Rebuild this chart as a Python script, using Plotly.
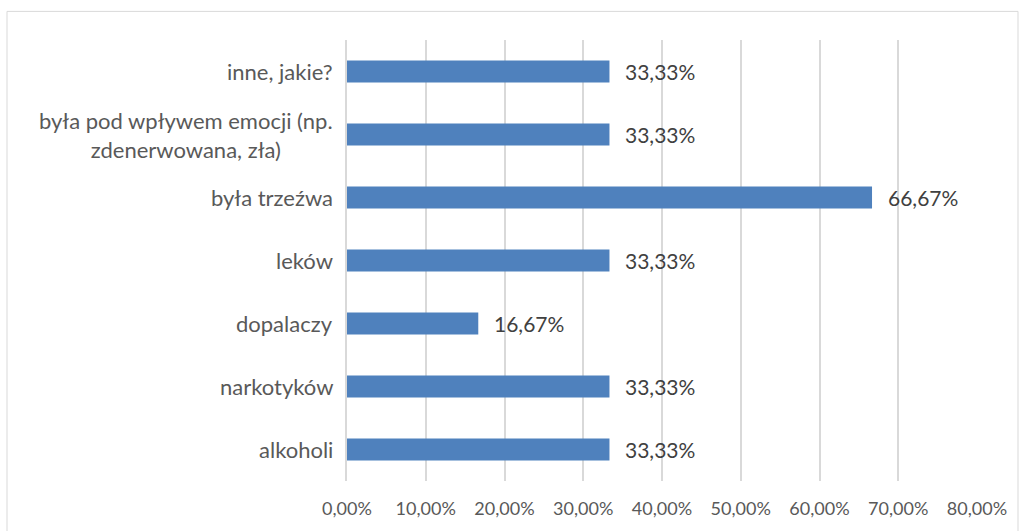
import plotly.graph_objects as go

categories = ["alkoholi", "narkotyków", "dopalaczy", "leków", "była trzeźwa",
              "była pod wpływem emocji (np.<br>zdenerwowana, zła)", "inne, jakie?"]
values = [0.3333, 0.3333, 0.1667, 0.3333, 0.6667, 0.3333, 0.3333]
tick_vals = [0, 0.1, 0.2, 0.3, 0.4, 0.5, 0.6, 0.7, 0.8]

W, H = 1019, 531
L, R, T, B = 347, 42, 40, 44
FONT = "Lato"
TXT = "#595959"

fig = go.Figure()
fig.add_trace(go.Bar(
    y=list(range(len(categories))), x=values, orientation="h",
    marker=dict(color="#4f81bd", line=dict(width=0)),
    hoverinfo="skip",
))

annotations = []
for i, (c, v) in enumerate(zip(categories, values)):
    annotations.append(dict(x=v, y=i, xref="x", yref="y", text=f"{v*100:.2f}%".replace(".", ","),
                            showarrow=False, xanchor="left", xshift=14,
                            font=dict(family=FONT, size=21, color="#404040")))
    annotations.append(dict(x=0, y=i, xref="paper", yref="y", text=c, showarrow=False,
                            xanchor="right", align="center", xshift=-12,
                            font=dict(family=FONT, size=22, color=TXT)))

pw = W - L - R
ph = H - T - B
fig.add_shape(type="rect", xref="paper", yref="paper",
              x0=(7 - L) / pw, x1=(1018 - L) / pw, y0=(H - 540 - B) / ph, y1=(H - 11 - B) / ph,
              line=dict(color="#d9d9d9", width=1), fillcolor="rgba(0,0,0,0)", layer="below")

fig.update_layout(
    width=W, height=H,
    margin=dict(l=L, r=R, t=T, b=B),
    paper_bgcolor="white", plot_bgcolor="white",
    separators=", ",
    bargap=0.65,
    showlegend=False,
    annotations=annotations,
    xaxis=dict(range=[0, 0.8], tickvals=tick_vals, tickformat=".2%",
               showgrid=True, gridcolor="#d9d9d9", gridwidth=1.5,
               zeroline=False, showline=False, ticks="",
               tickfont=dict(family=FONT, size=18, color=TXT), ticklabelstandoff=15,
               fixedrange=True),
    yaxis=dict(range=[-0.5, len(categories) - 0.5], showticklabels=False,
               showgrid=False, zeroline=False, showline=True, linecolor="#d9d9d9", linewidth=1.5,
               fixedrange=True),
)

html = fig.to_html(full_html=True, config={"displayModeBar": False})
html = html.replace("<head>", "<head><style>html,body{margin:0;padding:0;overflow:hidden;}</style>", 1)
with open("out.html", "w", encoding="utf-8") as f:
    f.write(html)
